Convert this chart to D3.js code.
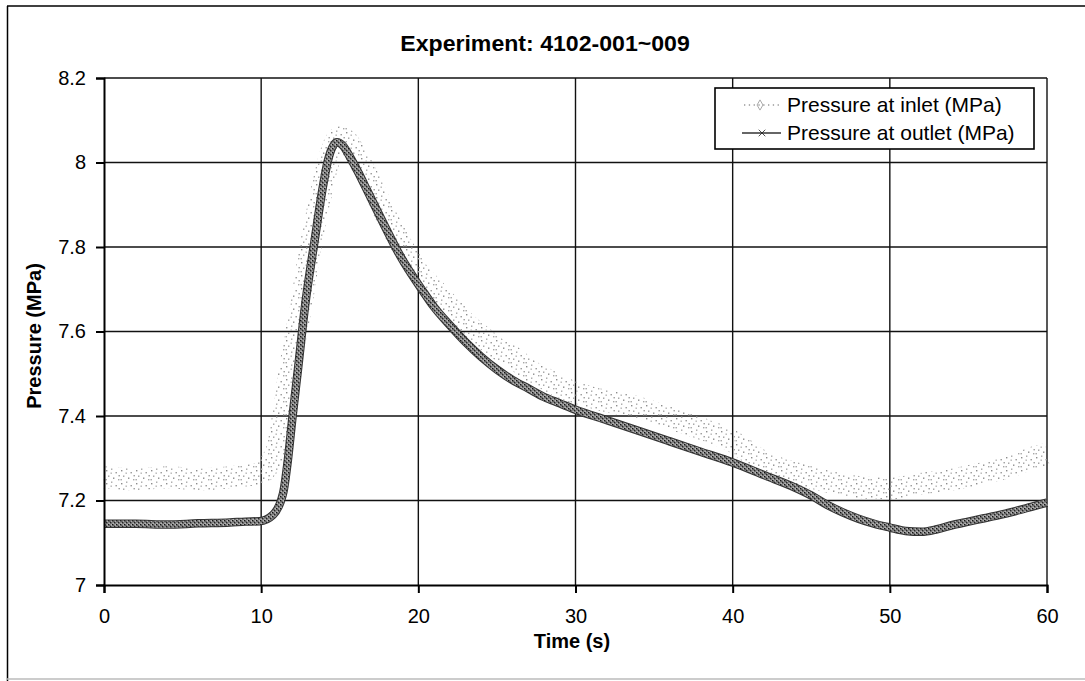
<!DOCTYPE html>
<html><head><meta charset="utf-8">
<script src="https://cdn.jsdelivr.net/npm/d3@7"></script>
<style>
body{margin:0;background:#fff;}
svg text{font-family:"Liberation Sans",Arial,Helvetica,sans-serif;fill:#000;}
</style></head><body>
<svg id="chart" width="1085" height="681"></svg>
<script>
// ---- chart text ----
const chartTitle = "Experiment: 4102-001~009";
const xLabel = "Time (s)";
const yLabel = "Pressure (MPa)";
const seriesNames = ["Pressure at inlet (MPa)", "Pressure at outlet (MPa)"];
const xTicks = [0, 10, 20, 30, 40, 50, 60];
const yTicks = [7, 7.2, 7.4, 7.6, 7.8, 8, 8.2];

// ---- inlet pressure (s, MPa) ----
const inletTime = [0, 2, 4, 6, 8, 10, 10.6, 11, 11.4, 11.7, 12, 12.5, 13, 13.5, 14, 14.5, 15, 15.5, 16, 17, 18, 19, 20, 21, 22, 23, 24, 25, 26, 27, 28, 29, 30, 32, 34, 36, 38, 40, 42, 44, 46, 48, 50, 52, 54, 56, 58, 59, 60];
const inletPressure = [7.255, 7.25, 7.255, 7.25, 7.255, 7.265, 7.29, 7.32, 7.40, 7.48, 7.55, 7.65, 7.77, 7.87, 7.96, 8.03, 8.06, 8.05, 8.02, 7.95, 7.87, 7.80, 7.74, 7.70, 7.66, 7.62, 7.59, 7.56, 7.54, 7.51, 7.49, 7.47, 7.455, 7.435, 7.42, 7.395, 7.37, 7.34, 7.29, 7.265, 7.245, 7.232, 7.228, 7.24, 7.25, 7.265, 7.285, 7.30, 7.31];

// ---- outlet pressure (s, MPa) ----
const outletTime = [0, 2, 4, 6, 8, 9, 9.9, 10.75, 11.4, 11.7, 12, 12.34, 12.79, 13.42, 13.87, 14.25, 14.82, 15.2, 15.65, 16.2, 16.73, 17.75, 18.83, 20.3, 21, 22, 23, 24, 25, 26, 27, 28, 29, 30, 32, 34, 36, 38, 40, 42, 44, 45, 46, 47, 48, 49, 50, 51, 52, 53, 54, 55, 56, 57, 58, 59, 60];
const outletPressure = [7.145, 7.145, 7.143, 7.146, 7.148, 7.15, 7.151, 7.166, 7.218, 7.296, 7.40, 7.51, 7.66, 7.82, 7.93, 8.005, 8.048, 8.04, 8.013, 7.975, 7.935, 7.858, 7.78, 7.695, 7.658, 7.615, 7.575, 7.54, 7.51, 7.485, 7.465, 7.445, 7.43, 7.415, 7.39, 7.365, 7.34, 7.315, 7.29, 7.26, 7.23, 7.212, 7.19, 7.172, 7.157, 7.145, 7.136, 7.128, 7.126, 7.132, 7.142, 7.15, 7.158, 7.166, 7.175, 7.185, 7.195];

const inlet = inletTime.map((t, i) => ({t, p: inletPressure[i]}));
const outlet = outletTime.map((t, i) => ({t, p: outletPressure[i]}));

const svg = d3.select("#chart");
const W = 1085, H = 681;
const plot = {left: 104, right: 1047, top: 78, bottom: 585};

const x = d3.scaleLinear().domain([0, 60]).range([plot.left, plot.right]);
const y = d3.scaleLinear().domain([7, 8.2]).range([plot.bottom, plot.top]);

// ---- textures for the two traces ----
const defs = svg.append("defs");
const dots = defs.append("pattern").attr("id", "inletDots")
  .attr("patternUnits", "userSpaceOnUse").attr("width", 15).attr("height", 13);
[[1,2,"#8c8c8c"],[6,0.5,"#a8a8a8"],[10.5,4,"#959595"],[3,7.5,"#a0a0a0"],[8,9.5,"#8c8c8c"],
 [13,11,"#a8a8a8"],[5.5,4.5,"#b0b0b0"],[13.5,7,"#9a9a9a"],[0.5,11,"#a4a4a4"]].forEach(([a, b, c]) =>
  dots.append("rect").attr("x", a).attr("y", b).attr("width", 1.4).attr("height", 1.4).attr("fill", c));

const speck = defs.append("pattern").attr("id", "outletSpeck")
  .attr("patternUnits", "userSpaceOnUse").attr("width", 4).attr("height", 4);
speck.append("rect").attr("width", 4).attr("height", 4).attr("fill", "#7a7a7a");
[[0,0,"#111"],[2,2,"#1a1a1a"],[2.6,0.4,"#e6e6e6"],[0.6,2.6,"#d8d8d8"],[1.4,1.2,"#444"]].forEach(([a, b, c]) =>
  speck.append("rect").attr("x", a).attr("y", b).attr("width", 1.2).attr("height", 1.2).attr("fill", c));

// ---- chart frame ----
svg.append("line").attr("x1", 7.5).attr("x2", 7.5).attr("y1", 6).attr("y2", H)
  .attr("stroke", "#000").attr("stroke-width", 1.5);
svg.append("line").attr("x1", 7).attr("x2", W).attr("y1", 6).attr("y2", 6)
  .attr("stroke", "#000").attr("stroke-width", 1.5);
svg.append("line").attr("x1", 7).attr("x2", W).attr("y1", 679).attr("y2", 679)
  .attr("stroke", "#bbb").attr("stroke-width", 1.5);

// ---- grid ----
const grid = svg.append("g");
grid.selectAll(".hg").data(yTicks.slice(1)).join("line")
  .attr("x1", plot.left).attr("x2", plot.right)
  .attr("y1", d => y(d)).attr("y2", d => y(d))
  .attr("stroke", "#111").attr("stroke-width", 1.4);
grid.selectAll(".vg").data(xTicks.slice(1)).join("line")
  .attr("x1", d => x(d)).attr("x2", d => x(d))
  .attr("y1", plot.top).attr("y2", plot.bottom)
  .attr("stroke", "#111").attr("stroke-width", 1.4);

// ---- traces ----
const line = d3.line().x(d => x(d.t)).y(d => y(d.p)).curve(d3.curveMonotoneX);

svg.append("path").datum(inlet).attr("d", line)
  .attr("fill", "none").attr("stroke", "url(#inletDots)").attr("stroke-width", 22)
  .attr("stroke-linejoin", "round").attr("stroke-linecap", "butt");

svg.append("path").datum(outlet).attr("d", line)
  .attr("fill", "none").attr("stroke", "#333").attr("stroke-width", 8.5)
  .attr("stroke-linejoin", "round");
svg.append("path").datum(outlet).attr("d", line)
  .attr("fill", "none").attr("stroke", "url(#outletSpeck)").attr("stroke-width", 6.5)
  .attr("stroke-linejoin", "round");

// ---- axes ----
const fmt = d => String(+d.toFixed(1));
const xAxis = svg.append("g").attr("transform", `translate(0,${plot.bottom})`)
  .call(d3.axisBottom(x).tickValues(xTicks).tickSize(8).tickPadding(16).tickFormat(fmt));
const yAxis = svg.append("g").attr("transform", `translate(${plot.left},0)`)
  .call(d3.axisLeft(y).tickValues(yTicks).tickSize(8).tickPadding(10).tickFormat(fmt));
[xAxis, yAxis].forEach(g => {
  g.select(".domain").attr("stroke", "#000").attr("stroke-width", 2);
  g.selectAll(".tick line").attr("stroke", "#000").attr("stroke-width", 2);
  g.selectAll(".tick text").attr("font-size", 20)
    .attr("font-family", "'Liberation Sans', Arial, sans-serif").attr("fill", "#000");
});

// ---- titles ----
svg.append("text").attr("transform", "translate(545,51) scale(1.05,1)").attr("text-anchor", "middle")
  .attr("font-size", 22).attr("font-weight", "bold").text(chartTitle);
svg.append("text").attr("x", 572).attr("y", 648).attr("text-anchor", "middle")
  .attr("font-size", 20).attr("font-weight", "bold").text(xLabel);
svg.append("text").attr("transform", "translate(41,336) rotate(-90)").attr("text-anchor", "middle")
  .attr("font-size", 20).attr("font-weight", "bold").text(yLabel);

// ---- legend ----
const lg = svg.append("g");
lg.append("rect").attr("x", 715).attr("y", 88).attr("width", 319).attr("height", 61)
  .attr("fill", "#fff").attr("stroke", "#000").attr("stroke-width", 1.6);
const rows = [105, 133];
// inlet sample: sparse grey dots with a small open diamond
lg.append("line").attr("x1", 744).attr("x2", 779).attr("y1", rows[0]).attr("y2", rows[0])
  .attr("stroke", "#999").attr("stroke-width", 1.3).attr("stroke-dasharray", "1.3,3.5");
lg.append("path").attr("d", d3.symbol(d3.symbolDiamond, 30)())
  .attr("transform", `translate(760,${rows[0]})`)
  .attr("fill", "none").attr("stroke", "#aaa").attr("stroke-width", 1);
// outlet sample: dark line with a star marker
lg.append("line").attr("x1", 742).attr("x2", 781).attr("y1", rows[1]).attr("y2", rows[1])
  .attr("stroke", "#333").attr("stroke-width", 1.5);
lg.append("path").attr("d", d3.symbol(d3.symbolTimes, 30)())
  .attr("transform", `translate(762,${rows[1]})`)
  .attr("fill", "#222").attr("stroke", "#222").attr("stroke-width", 0.8);
lg.selectAll(".lt").data(seriesNames).join("text")
  .attr("x", 787).attr("y", (d, i) => rows[i] + 7).attr("font-size", 21).text(d => d);
</script>
</body></html>
